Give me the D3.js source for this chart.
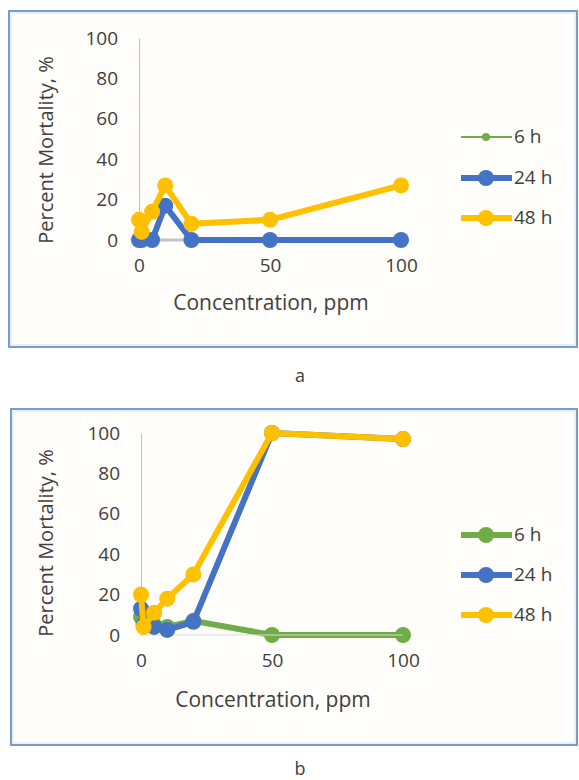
<!DOCTYPE html>
<html>
<head>
<meta charset="utf-8">
<script src="https://cdn.jsdelivr.net/npm/d3@7"></script>
<style>
  html, body { margin: 0; padding: 0; background: #ffffff; }
  svg { display: block; }
  text { font-family: "Open Sans", Lato, sans-serif; fill: #404040; }
</style>
</head>
<body>
<svg id="chart" width="579" height="780"></svg>
<script>
// ---------- data ----------
const concentrations = [0, 1, 5, 10, 20, 50, 100];
const seriesNames = ["6 h", "24 h", "48 h"];
const seriesColors = ["#70ad47", "#4472c4", "#ffc000"];
const yTicks = [0, 20, 40, 60, 80, 100];
const xTicks = [0, 50, 100];

// panel a
const a6h  = [0, 0, 0, 0, 0, 0, 0];
const a24h = [0, 0, 0, 17, 0, 0, 0];
const a48h = [10, 4, 14, 27, 8, 10, 27];
// panel b
const b6h  = [9, 6, 5, 4, 7, 0, 0];
const b24h = [13, 5, 4, 2.5, 6.5, 100, 97];
const b48h = [20, 4, 11, 18, 30, 100, 97];

const panelLabels = ["a", "b"];
const xTitle = "Concentration, ppm";
const yTitle = "Percent Mortality, %";

// ---------- drawing ----------
const svg = d3.select("#chart");
const FONT = "'Open Sans', Lato, sans-serif";

function panel(cfg) {
  const g = svg.append("g");
  // frame
  g.append("rect")
    .attr("x", cfg.frame[0]).attr("y", cfg.frame[1])
    .attr("width", cfg.frame[2]).attr("height", cfg.frame[3])
    .attr("fill", "#fffefb").attr("stroke", "#7b9cc4").attr("stroke-width", 2);
  g.append("rect")
    .attr("x", cfg.frame[0] + 2).attr("y", cfg.frame[1] + 2)
    .attr("width", cfg.frame[2] - 4).attr("height", cfg.frame[3] - 4)
    .attr("fill", "none").attr("stroke", "#e6f0fa").attr("stroke-width", 2);

  const x = d3.scaleLinear().domain([0, 100]).range(cfg.xr);
  const y = d3.scaleLinear().domain([0, 100]).range(cfg.yr);

  // y axis
  const ya = g.append("g").attr("transform", `translate(${cfg.xr[0]},0)`)
    .call(d3.axisLeft(y).tickValues(yTicks).tickSize(0).tickPadding(21));
  ya.select(".domain").attr("stroke", "#bfbfbf").attr("stroke-width", 1);
  ya.selectAll("text").style("font-family", FONT).style("font-size", "19px").attr("fill", "#404040");

  // x axis (labels only; baseline drawn separately)
  const xa = g.append("g").attr("transform", `translate(0,${cfg.yr[0]})`)
    .call(d3.axisBottom(x).tickValues(xTicks).tickSize(0).tickPadding(19));
  xa.select(".domain").remove();
  xa.selectAll("text").style("font-family", FONT).style("font-size", "19px").attr("fill", "#404040");

  const baselineG = g.append("g");

  const line = d3.line().x((d, i) => x(concentrations[i])).y(d => y(d));

  cfg.series.forEach((vals, si) => {
    const thin = cfg.thin[si];
    if (si === 1) baselineG.raise();
    const sg = g.append("g");
    sg.append("path").datum(vals)
      .attr("d", line).attr("fill", "none")
      .attr("stroke", seriesColors[si]).attr("stroke-width", thin ? 2 : 6)
      .attr("stroke-linejoin", "round");
    sg.selectAll("circle").data(vals).join("circle")
      .attr("cx", (d, i) => x(concentrations[i])).attr("cy", d => y(d))
      .attr("r", thin ? 1.5 : 8).attr("fill", seriesColors[si]);
    if (si === 0) {
      baselineG.append("line")
        .attr("x1", x(0)).attr("x2", x(100))
        .attr("y1", y(0)).attr("y2", y(0))
        .attr("stroke", cfg.baseColor).attr("stroke-width", cfg.baseWidth);
    }
  });

  // axis titles
  g.append("text")
    .attr("x", (cfg.xr[0] + cfg.xr[1]) / 2 + 1).attr("y", cfg.xTitleY)
    .attr("text-anchor", "middle").attr("dominant-baseline", "middle")
    .style("font-size", "21px").text(xTitle);
  g.append("text")
    .attr("transform", `translate(${cfg.yTitleX},${cfg.yTitleCY}) rotate(-90)`)
    .attr("text-anchor", "middle").attr("dominant-baseline", "middle")
    .style("font-size", "20px").text(yTitle);

  // legend
  seriesNames.forEach((name, si) => {
    const thin = cfg.thin[si];
    const ly = cfg.legendY[si];
    g.append("line")
      .attr("x1", 461).attr("x2", 512).attr("y1", ly).attr("y2", ly)
      .attr("stroke", seriesColors[si]).attr("stroke-width", thin ? 2 : 6);
    g.append("circle").attr("cx", 486).attr("cy", ly).attr("r", thin ? 4 : 8)
      .attr("fill", seriesColors[si]);
    g.append("text").attr("x", 514).attr("y", ly + 1)
      .attr("dominant-baseline", "middle").style("font-size", "19px")
      .attr("fill", "#262626").text(name);
  });

  // panel label
  svg.append("text").attr("x", 300).attr("y", cfg.labelY)
    .attr("text-anchor", "middle").attr("dominant-baseline", "middle")
    .style("font-size", "18px").attr("fill", "#000").text(cfg.label);
}

panel({
  frame: [9, 11, 568, 336],
  xr: [139, 401], yr: [240, 38],
  series: [a6h, a24h, a48h],
  thin: [true, false, false],
  baseColor: "#c4c4c4", baseWidth: 3,
  xTitleY: 304, yTitleX: 48, yTitleCY: 150,
  legendY: [137, 178, 218],
  label: panelLabels[0], labelY: 377
});

panel({
  frame: [11, 409, 566, 336],
  xr: [141, 403], yr: [635, 433],
  series: [b6h, b24h, b48h],
  thin: [false, false, false],
  baseColor: "#d9d9d9", baseWidth: 1,
  xTitleY: 701, yTitleX: 48, yTitleCY: 543,
  legendY: [535, 575, 615],
  label: panelLabels[1], labelY: 770
});
</script>
</body>
</html>
